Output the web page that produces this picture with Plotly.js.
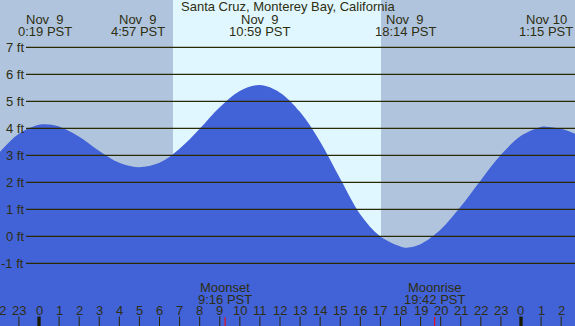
<!DOCTYPE html>
<html>
<head>
<meta charset="utf-8">
<script src="https://cdn.plot.ly/plotly-3.0.1.min.js"></script>
<style>html,body{margin:0;padding:0;background:#b0c4de;}#chart{width:575px;height:326px;}</style>
</head>
<body>
<div id="chart"></div>
<script>
// ---- data ----
var titleText = "Santa Cruz, Monterey Bay, California";
var tideHours = [-2, -1, 0, 0.317, 1, 2, 3, 4, 4.95, 6, 7, 8, 9, 10, 10.98, 12, 13, 14, 15, 16, 17, 18, 18.23, 19, 20, 21, 22, 23, 24, 25, 25.25, 26, 27];
var tideFeet  = [3.08, 3.80, 4.13, 4.15, 4.07, 3.69, 3.16, 2.72, 2.56, 2.72, 3.24, 3.98, 4.78, 5.38, 5.60, 5.32, 4.60, 3.50, 2.13, 0.81, -0.01, -0.38, -0.42, -0.29, 0.25, 1.10, 2.08, 3.02, 3.72, 4.05, 4.06, 3.98, 3.70];
var extremeHours = [0.317, 4.95, 10.98, 18.23, 25.25];
var extremeDates = ["Nov  9", "Nov  9", "Nov  9", "Nov  9", "Nov 10"];
var extremeTimes = ["0:19 PST", "4:57 PST", "10:59 PST", "18:14 PST", "1:15 PST"];
var sunriseHour = 6.67, sunsetHour = 17.03;
var moonHours = [9.267, 19.7];
var moonNames = ["Moonset", "Moonrise"];
var moonTimes = ["9:16 PST", "19:42 PST"];
var hourTicks = [-2,-1,0,1,2,3,4,5,6,7,8,9,10,11,12,13,14,15,16,17,18,19,20,21,22,23,24,25,26];
var hourLabels = ["22","23","0","1","2","3","4","5","6","7","8","9","10","11","12","13","14","15","16","17","18","19","20","21","22","23","0","1","2"];
var footLevels = [-1,0,1,2,3,4,5,6,7];
var footLabels = ["-1 ft","0 ft","1 ft","2 ft","3 ft","4 ft","5 ft","6 ft","7 ft"];

// ---- styling ----
var W = 575, H = 326;
var xRange = [-1.942, 26.689];
var yRange = [-3.322, 8.752];
var nightColor = "#b0c4de", dayColor = "#e0f7ff", tideColor = "#4262d8";
var inkColor = "#2e2e10", gridColor = "#2a2a00";
var fontFam = "Liberation Sans, Arial, sans-serif";
var fs = 13;
function px2paperX(px){ return px / W; }
function hourToPaper(h){ return (h - xRange[0]) / (xRange[1] - xRange[0]); }
function pxTop(py){ return 1 - py / H; }

var traces = [
  {x: [xRange[0]-2, xRange[1]+2], y: [yRange[0]-1, yRange[0]-1], mode: "lines", line: {width: 0}, hoverinfo: "skip", showlegend: false},
  {x: tideHours, y: tideFeet, mode: "lines", line: {width: 0, shape: "spline", smoothing: 1}, fill: "tonexty", fillcolor: tideColor, hoverinfo: "skip", showlegend: false}
];

var shapes = [
  {type: "rect", xref: "x", yref: "paper", x0: xRange[0]-1, x1: sunriseHour, y0: 0, y1: 1, fillcolor: nightColor, line: {width: 0}, layer: "below"},
  {type: "rect", xref: "x", yref: "paper", x0: sunriseHour, x1: sunsetHour, y0: 0, y1: 1, fillcolor: dayColor, line: {width: 0}, layer: "below"},
  {type: "rect", xref: "x", yref: "paper", x0: sunsetHour, x1: xRange[1]+1, y0: 0, y1: 1, fillcolor: nightColor, line: {width: 0}, layer: "below"}
];
var annotations = [];
function ann(o){ o.showarrow = false; o.font = {family: fontFam, size: fs, color: inkColor}; o.borderpad = 0; annotations.push(o); }

footLevels.forEach(function(v, i){
  shapes.push({type: "line", xref: "paper", yref: "y", x0: px2paperX(26), x1: 1, y0: v, y1: v, line: {color: gridColor, width: 1.3}, layer: "above"});
  ann({xref: "paper", yref: "y", x: px2paperX(24.5), y: v, xanchor: "right", yanchor: "middle", text: footLabels[i]});
});

hourTicks.forEach(function(h, i){
  var mid = (hourLabels[i] === "0");
  shapes.push({type: "line", xref: "x", yref: "paper", x0: h, x1: h, y0: 0, y1: pxTop(316.5), line: {color: mid ? "#1a1a00" : gridColor, width: mid ? 3.3 : 1}, layer: "above"});
  ann({xref: "paper", yref: "paper", x: hourToPaper(h), y: pxTop(310.5), xanchor: "center", yanchor: "middle", text: hourLabels[i]});
});

moonHours.forEach(function(h, i){
  shapes.push({type: "line", xref: "x", yref: "paper", x0: h, x1: h, y0: 0, y1: pxTop(317), line: {color: "#ff0000", width: 1}, layer: "above"});
  ann({xref: "x", yref: "paper", x: h, y: pxTop(287), xanchor: "center", yanchor: "middle", text: moonNames[i]});
  ann({xref: "x", yref: "paper", x: h, y: pxTop(299), xanchor: "center", yanchor: "middle", text: moonTimes[i]});
});

extremeHours.forEach(function(h, i){
  ann({xref: "paper", yref: "paper", x: hourToPaper(h), y: pxTop(19), xanchor: "center", yanchor: "middle", text: extremeDates[i].replace(/ /g, "&nbsp;")});
  ann({xref: "paper", yref: "paper", x: hourToPaper(h), y: pxTop(31), xanchor: "center", yanchor: "middle", text: extremeTimes[i]});
});

ann({xref: "paper", yref: "paper", x: px2paperX(288), y: pxTop(7), xanchor: "center", yanchor: "middle", text: titleText});

var layout = {
  width: W, height: H,
  margin: {l: 0, r: 0, t: 0, b: 0, pad: 0},
  paper_bgcolor: nightColor, plot_bgcolor: nightColor,
  xaxis: {range: xRange, visible: false, fixedrange: true},
  yaxis: {range: yRange, visible: false, fixedrange: true},
  shapes: shapes,
  annotations: annotations,
  showlegend: false
};

Plotly.newPlot("chart", traces, layout, {staticPlot: true, displayModeBar: false});
</script>
</body>
</html>
